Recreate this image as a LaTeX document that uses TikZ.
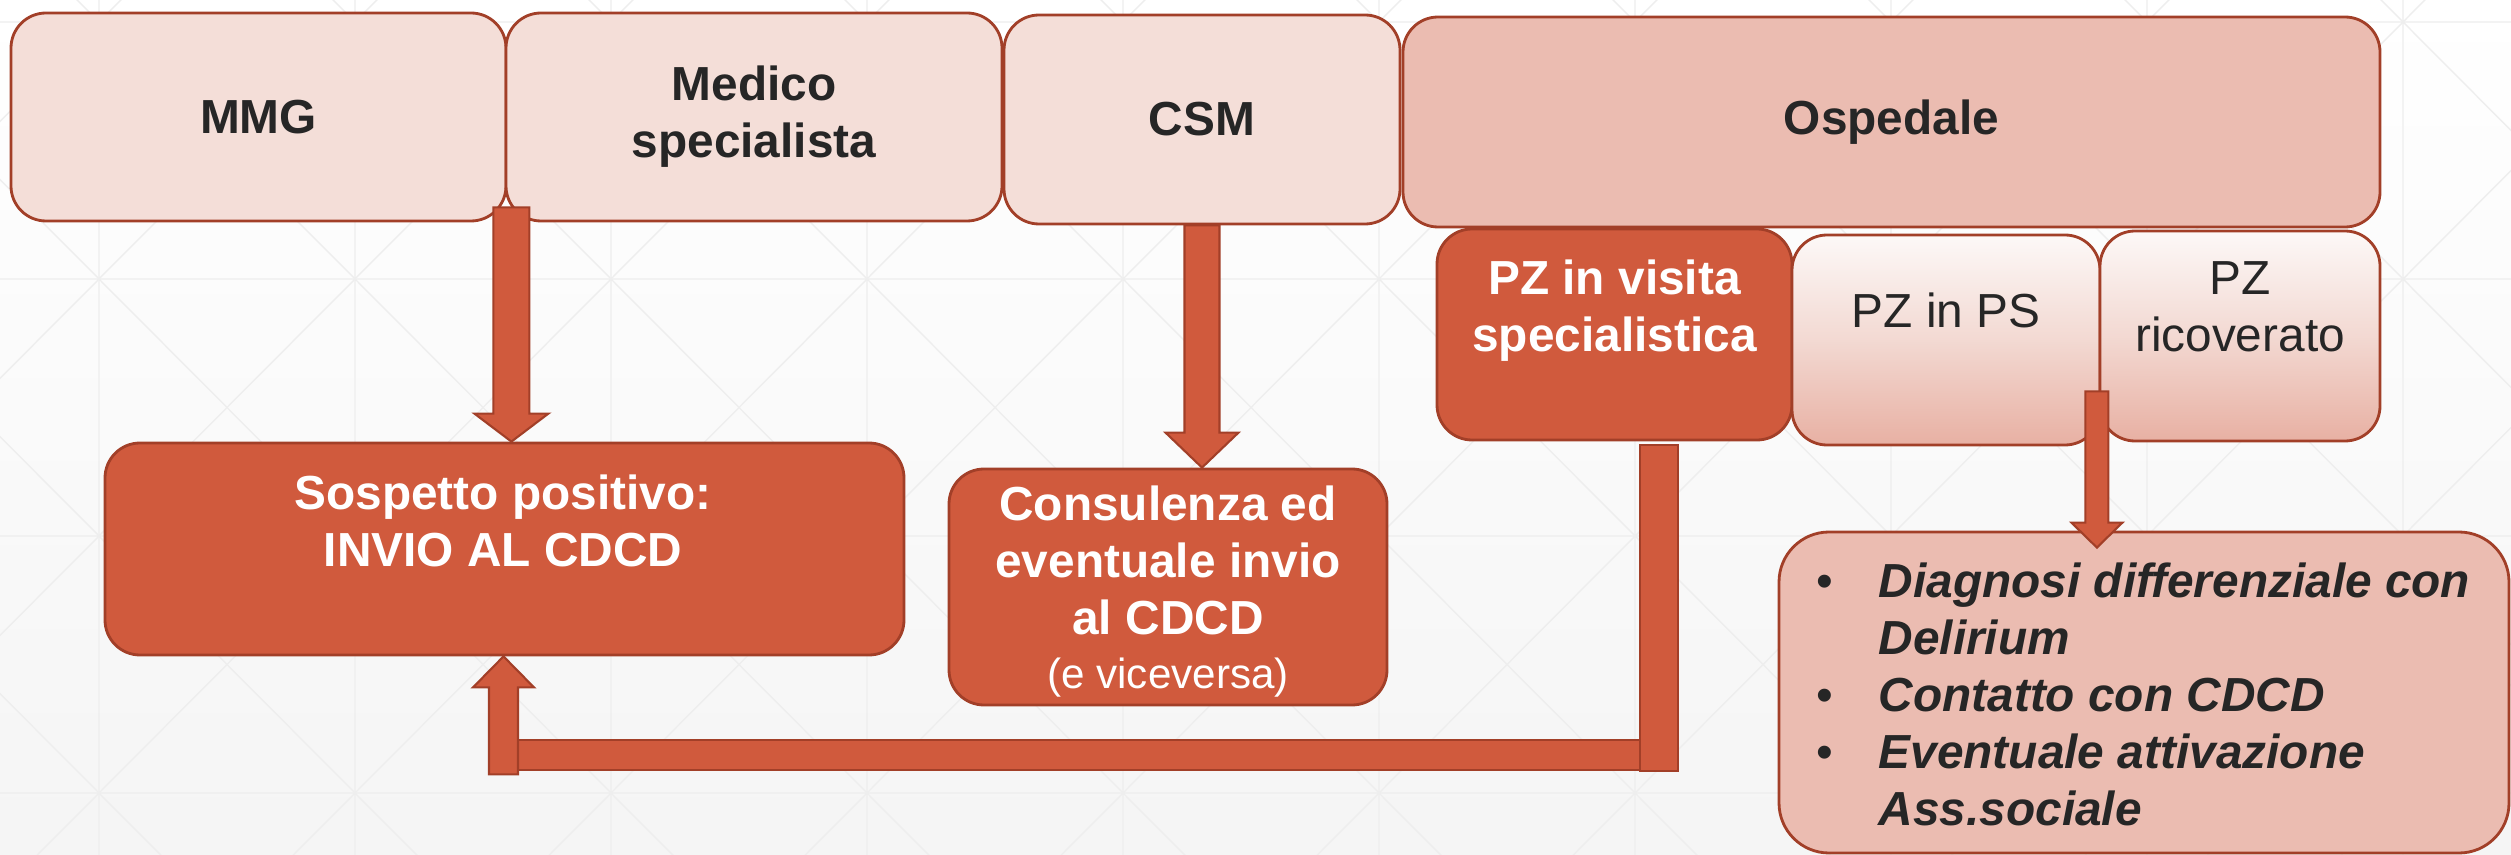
\documentclass[tikz,border=0pt]{standalone}
\usepackage{fontspec}
\setmainfont{Liberation Sans}
\usepackage{xcolor}
\usepackage{tikz}
\usetikzlibrary{calc,positioning}

\definecolor{lightpink}{HTML}{F4DED8}
\definecolor{hospink}{HTML}{EBBCB1}
\definecolor{darkred}{HTML}{D05A3D}
\definecolor{bordercol}{HTML}{A23F28}
\definecolor{textdark}{HTML}{262626}
\definecolor{gridgray}{HTML}{EEEEEE}

\newcommand{\boxfont}{\fontsize{13.6}{16.2}\selectfont}

% fat block arrow: tail, tip, half shaft, half head, head length (signed)
\newcommand{\fatarrow}[5]{%
  \draw[arrowbody] let \p1=(#1), \p2=(#2) in
    ({\x2-#3},\y1) -- ({\x2-#3},{\y2+#5}) -- ({\x2-#4},{\y2+#5}) -- (\x2,\y2)
    -- ({\x2+#4},{\y2+#5}) -- ({\x2+#3},{\y2+#5}) -- ({\x2+#3},\y1) -- cycle;}

\tikzset{
    box/.style={draw=bordercol, line width=0.8pt, rectangle, rounded corners=0.35cm, inner sep=0pt},
    lightbox/.style={box, fill=lightpink},
    hosbox/.style={box, fill=hospink},
    darkbox/.style={box, fill=darkred},
    gradbox/.style={box, top color=white!80!lightpink, bottom color=hospink!88!darkred, middle color=lightpink!85!hospink},
    boxtext/.style={align=center, font=\boxfont\bfseries, text=textdark},
    whitetext/.style={align=center, font=\boxfont\bfseries, text=white},
    arrowbody/.style={fill=darkred, draw=bordercol, line width=0.6pt},
}

\begin{document}
\begin{tikzpicture}
    \useasboundingbox (0,0) rectangle (25.11,-8.55);
    \clip (0,0) rectangle (25.11,-8.55);

    % Background
    \shade[top color=white, bottom color=black!4] (0,0) rectangle (25.11,-8.55);
    \foreach \i in {-1,...,9} {
        \foreach \j in {-1,...,3} {
            \pgfmathsetmacro\gx{0.99+2.56*\i}
            \pgfmathsetmacro\gy{-0.22-2.57*\j}
            \draw[gridgray, line width=0.4pt] (\gx,\gy) -- ++(2.56,-2.57)
                (\gx,\gy-2.57) -- ++(2.56,2.57)
                (\gx,\gy) -- ++(0,-2.57)
                (\gx,\gy) -- ++(2.56,0);
        }
    }

    % Top row
    \node[lightbox, minimum width=4.95cm, minimum height=2.08cm] (mmg) at (2.585,-1.17) {};
    \node[boxtext] at (mmg.center) {MMG};

    \node[lightbox, minimum width=4.96cm, minimum height=2.08cm] (med) at (7.54,-1.17) {};
    \node[boxtext] at (med.center) {Medico\\specialista};

    \node[lightbox, minimum width=3.96cm, minimum height=2.09cm] (csm) at (12.02,-1.195) {};
    \node[boxtext] at (csm.center) {CSM};

    \node[hosbox, minimum width=9.77cm, minimum height=2.10cm] (osp) at (18.915,-1.22) {};
    \node[boxtext] at (osp.center) {Ospedale};

    % Hospital sub boxes
    \node[darkbox, minimum width=3.55cm, minimum height=2.11cm] (visita) at (16.145,-3.345) {};
    \node[whitetext] at (16.145,-3.11) {PZ in visita\\specialistica};

    \node[gradbox, minimum width=3.08cm, minimum height=2.10cm] (ps) at (19.46,-3.40) {};
    \node[anchor=base, font=\boxfont, text=textdark] at (19.46,-3.28) {PZ in PS};

    \node[gradbox, minimum width=2.80cm, minimum height=2.10cm] (ric) at (22.40,-3.36) {};
    \node[align=center, font=\boxfont, text=textdark] at (22.40,-3.065) {PZ\\ricoverato};

    % Outcomes
    \node[darkbox, minimum width=7.99cm, minimum height=2.12cm] (sosp) at (5.045,-5.49) {};
    \node[whitetext] at (5.03,-5.21) {Sospetto positivo:\\INVIO AL CDCD};

    \node[darkbox, minimum width=4.38cm, minimum height=2.36cm] (cons) at (11.68,-5.87) {};
    \node[whitetext] at (11.68,-5.60) {Consulenza ed\\eventuale invio\\al CDCD};
    \node[anchor=base, font=\fontsize{12}{14}\selectfont, text=white] at (11.68,-6.88) {(e viceversa)};

    \node[hosbox, rounded corners=0.5cm, minimum width=7.30cm, minimum height=3.21cm] (bul) at (21.44,-6.925) {};
    \node[anchor=north west, inner sep=0pt, font=\boxfont\bfseries\itshape, text=textdark] at (18.16,-5.57) {%
        \begin{tabular}{@{}p{0.62cm}@{}l@{}}
        {\normalfont\textbullet} & Diagnosi differenziale con\\
         & Delirium\\
        {\normalfont\textbullet} & Contatto con CDCD\\
        {\normalfont\textbullet} & Eventuale attivazione\\
         & Ass.sociale
        \end{tabular}};

    % Arrows
    \coordinate (mtail) at ($(mmg.south east)+(0.04,0.15)$);
    \fatarrow{mtail}{mtail |- sosp.north}{0.18cm}{0.37cm}{0.28cm}

    \fatarrow{csm.south}{csm.south |- cons.north}{0.175cm}{0.365cm}{0.35cm}

    \coordinate (vtop) at ($(visita.south)+(0.445,-0.04)$);
    \draw[arrowbody] ($(sosp.south)+(0.135,-0.84)$) rectangle ($(vtop)+(-0.19,-3.25)$);
    \draw[arrowbody] ($(vtop)+(-0.19,0)$) rectangle ($(vtop)+(0.19,-3.26)$);
    \coordinate (utail) at ($(sosp.south)+(-0.01,-1.18)$);
    \fatarrow{utail}{utail |- sosp.south}{0.145cm}{0.305cm}{-0.31cm}

    \coordinate (ptail) at ($(ps.south east)+(-0.045,0.55)$);
    \fatarrow{ptail}{$(ptail |- bul.north)+(0,-0.17)$}{0.115cm}{0.255cm}{0.25cm}
\end{tikzpicture}
\end{document}
